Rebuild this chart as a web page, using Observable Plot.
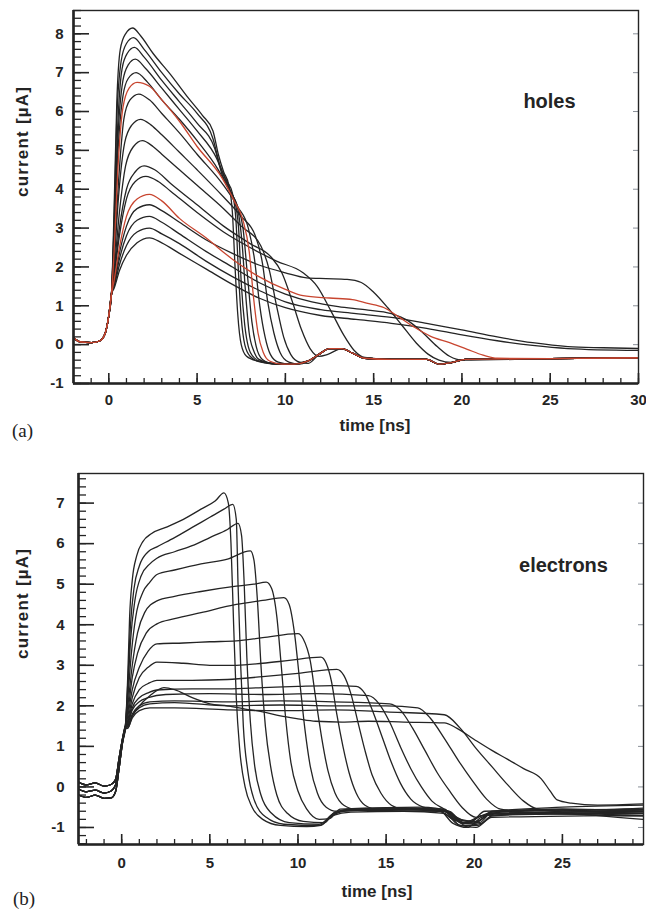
<!DOCTYPE html>
<html><head><meta charset="utf-8">
<script src="https://cdn.jsdelivr.net/npm/d3@7"></script>
<script src="https://cdn.jsdelivr.net/npm/@observablehq/plot@0.6"></script>
<style>
html,body{margin:0;padding:0;background:#fff;}
body{width:646px;height:913px;position:relative;overflow:hidden;font-family:"Liberation Sans",Arial,sans-serif;}
#pa{position:absolute;left:0;top:0}
#pb{position:absolute;left:0;top:460px}
.tag{position:absolute;font-family:"Liberation Serif","Times New Roman",serif;font-size:19px;color:#222;line-height:1}
.spaced text{letter-spacing:1.2px}
</style></head><body>
<div id="pa"></div><div id="pb"></div>
<div class="tag" style="left:12px;top:421px">(a)</div>
<div class="tag" style="left:13px;top:889px">(b)</div>
<script>
// ---------- panel (a): holes ----------
const holesXDomain = [-2, 30];
const holesYDomain = [-1, 8.6];
const holesXTicks = [0, 5, 10, 15, 20, 25, 30];
const holesYTicks = [-1, 0, 1, 2, 3, 4, 5, 6, 7, 8];
const holesRed = [5, 11];
const holesPre = [[-2,0.18],[-1.6,0.07],[-1.0,0.05],[-0.5,0.1],[-0.2,0.3],[0,0.75],[0.15,1.3]];
const holesTail = [[10.5,-0.5],[11.3,-0.42],[11.9,-0.25],[12.5,-0.1],[13.2,-0.1],[13.8,-0.22],[14.5,-0.35],[16,-0.38],[18,-0.38],[18.7,-0.5],[19.4,-0.46],[20.2,-0.38],[25,-0.36],[30,-0.34]];
const holesCurves = [
 [[0.3,3.5],[0.45,6.2],[0.65,7.6],[0.95,8.0],[1.35,8.15],[1.8,7.95],[2.5,7.5],[3.5,6.95],[4.5,6.35],[5.3,5.9],[5.9,5.5],[6.2,4.9],[6.5,4.45],[6.8,4.1],[7.0,3.4],[7.15,2.0],[7.3,0.8],[7.5,0.0],[7.8,-0.3],[8.4,-0.42],[9.5,-0.48]],
 [[0.3,3.2],[0.45,5.8],[0.7,7.3],[1.0,7.75],[1.4,7.9],[2,7.6],[3,7.0],[4,6.45],[5,5.95],[5.9,5.3],[6.3,4.6],[6.7,4.2],[7.0,3.9],[7.2,3.2],[7.35,1.8],[7.5,0.7],[7.7,0.0],[8.0,-0.3],[8.6,-0.45],[9.6,-0.5]],
 [[0.3,3.0],[0.5,5.6],[0.75,7.1],[1.05,7.5],[1.45,7.65],[2,7.4],[3,6.8],[4,6.25],[5,5.7],[6.0,5.05],[6.4,4.4],[6.8,4.0],[7.1,3.75],[7.35,3.0],[7.5,1.6],[7.7,0.5],[7.9,-0.05],[8.2,-0.32],[8.8,-0.46],[9.8,-0.5]],
 [[0.3,2.8],[0.5,5.2],[0.8,6.8],[1.1,7.2],[1.5,7.35],[2.1,7.1],[3,6.6],[4,6.05],[5,5.5],[6.1,4.8],[6.6,4.25],[7.0,3.85],[7.3,3.5],[7.55,2.6],[7.75,1.3],[7.95,0.3],[8.2,-0.15],[8.5,-0.38],[9.2,-0.48],[10,-0.5]],
 [[0.3,2.6],[0.5,4.8],[0.8,6.4],[1.1,6.85],[1.55,7.0],[2.2,6.75],[3,6.3],[4,5.8],[5,5.25],[6.2,4.5],[6.8,4.0],[7.3,3.55],[7.6,3.0],[7.85,1.8],[8.1,0.6],[8.35,-0.05],[8.7,-0.38],[9.4,-0.5],[10.2,-0.5]],
 [[0.3,2.4],[0.5,4.4],[0.8,6.1],[1.15,6.6],[1.6,6.75],[2.3,6.65],[3,6.3],[4,5.75],[5,5.1],[6.4,4.3],[7.1,3.7],[7.6,3.2],[7.95,2.4],[8.2,1.2],[8.45,0.3],[8.75,-0.2],[9.1,-0.42],[9.8,-0.5]],
 [[0.3,2.3],[0.55,4.2],[0.85,5.8],[1.2,6.3],[1.7,6.45],[2.3,6.3],[3,5.95],[4,5.45],[5,4.9],[6.5,4.1],[7.3,3.55],[7.9,3.0],[8.25,2.2],[8.55,1.0],[8.85,0.2],[9.15,-0.25],[9.6,-0.45],[10.3,-0.5]],
 [[0.3,2.1],[0.55,3.8],[0.9,5.2],[1.3,5.65],[1.8,5.8],[2.4,5.65],[3,5.4],[4,4.95],[5,4.5],[6.5,3.8],[7.5,3.3],[8.3,2.8],[8.7,2.1],[9.0,1.1],[9.35,0.3],[9.7,-0.2],[10.2,-0.45],[10.8,-0.5]],
 [[0.3,1.9],[0.6,3.4],[0.95,4.6],[1.4,5.1],[1.9,5.25],[2.5,5.1],[3,4.9],[4,4.5],[5,4.1],[6.5,3.5],[7.5,3.05],[8.6,2.55],[9.1,1.9],[9.5,1.0],[9.9,0.2],[10.3,-0.25],[10.8,-0.45],[11.3,-0.48]],
 [[0.3,1.8],[0.6,3.0],[1.0,4.0],[1.5,4.45],[2.0,4.6],[2.6,4.5],[3.5,4.15],[5,3.6],[6.5,3.05],[8,2.6],[9.2,2.25],[9.8,1.85],[10.4,1.1],[10.9,0.4],[11.4,-0.1],[11.9,-0.3],[12.4,-0.25]],
 [[0.3,1.75],[0.6,2.8],[1.0,3.75],[1.5,4.2],[2.1,4.33],[2.8,4.2],[3.5,3.95],[5,3.4],[6.5,2.9],[8,2.5],[9.5,2.15],[11,1.85],[11.8,1.5],[12.6,0.85],[13.3,0.25],[13.9,-0.15],[14.5,-0.33]],
 [[0.3,1.65],[0.6,2.5],[1.0,3.3],[1.6,3.75],[2.3,3.87],[3,3.7],[4,3.25],[5.5,2.75],[7,2.2],[8.5,1.75],[10,1.42],[11,1.26],[12.5,1.2],[13.8,1.16],[14.6,1.07],[15.6,0.95],[16.4,0.72],[17.3,0.45],[18.2,0.22],[19.3,0.05],[20.3,-0.12],[21.2,-0.27],[22,-0.35]],
 [[0.3,1.6],[0.6,2.35],[1.0,3.05],[1.6,3.5],[2.3,3.6],[3,3.45],[4,3.15],[5.5,2.7],[7,2.35],[8.5,2.05],[10,1.85],[11.2,1.72],[12.3,1.7],[13.5,1.68],[14.3,1.6],[15,1.35],[15.8,0.95],[16.6,0.5],[17.4,0.05],[18.1,-0.25],[18.7,-0.4]],
 [[0.3,1.55],[0.6,2.2],[1.0,2.8],[1.6,3.2],[2.3,3.3],[3,3.15],[4,2.85],[5.5,2.4],[7,2.0],[8.5,1.6],[10,1.3],[11.5,1.1],[13,0.98],[14.5,0.9],[16,0.8],[17,0.6],[17.8,0.3],[18.6,-0.05],[19.3,-0.3],[20,-0.4]],
 [[0.3,1.5],[0.6,2.05],[1.0,2.55],[1.6,2.9],[2.3,3.0],[3,2.85],[4,2.6],[5.5,2.15],[7,1.75],[8.5,1.4],[10,1.1],[12,0.9],[14,0.8],[16,0.7],[18,0.55],[20,0.38],[22,0.2],[24,0.05],[26,-0.05],[28,-0.08],[30,-0.1]],
 [[0.3,1.45],[0.6,1.9],[1.0,2.3],[1.6,2.62],[2.3,2.75],[3,2.62],[4,2.35],[5.5,1.95],[7,1.55],[8.5,1.2],[10,0.95],[12,0.75],[14,0.65],[16,0.55],[18,0.42],[20,0.25],[22,0.1],[24,-0.02],[26,-0.1],[30,-0.15]]
];

// ---------- panel (b): electrons ----------
const elecXDomain = [-2.45, 29.6];
const elecYDomain = [-1.42, 7.73];
const elecXTicks = [0, 5, 10, 15, 20, 25];
const elecYTicks = [-1, 0, 1, 2, 3, 4, 5, 6, 7];
const elecPreA = [[-2.45,-0.05],[-2.0,-0.12],[-1.5,-0.08],[-1.0,-0.15],[-0.6,-0.1],[-0.35,0.05],[-0.15,0.6],[0.05,1.15],[0.2,1.45]];
const elecPreB = [[-2.45,-0.2],[-2.0,-0.26],[-1.5,-0.2],[-1.0,-0.28],[-0.6,-0.27],[-0.35,-0.12],[-0.15,0.45],[0.05,1.1],[0.2,1.42]];
const elecPreC = [[-2.45,0.12],[-2.0,0.05],[-1.5,0.1],[-1.0,0.02],[-0.6,0.06],[-0.35,0.18],[-0.15,0.7],[0.05,1.2],[0.2,1.48]];
const elecCurves = [
 [[0.35,2.8],[0.45,4.2],[0.6,5.1],[0.85,5.7],[1.2,6.05],[1.7,6.25],[2.5,6.4],[3.5,6.6],[4.5,6.85],[5.3,7.05],[5.8,7.25],[6.05,7.0],[6.2,6.0],[6.35,4.0],[6.5,2.2],[6.7,0.9],[7.0,0.0],[7.4,-0.5],[8.0,-0.8],[9.0,-0.95],[10.5,-0.98],[11.3,-0.95],[11.9,-0.72],[12.6,-0.6],[15,-0.55],[18,-0.58],[18.8,-0.9],[19.6,-1.0],[20.4,-0.75],[22,-0.6],[26,-0.58],[29.6,-0.52]],
 [[0.35,2.6],[0.5,4.0],[0.7,4.9],[1.0,5.45],[1.5,5.8],[2,5.92],[3,6.15],[4,6.4],[5,6.65],[5.8,6.85],[6.3,6.97],[6.5,6.6],[6.6,5.0],[6.75,3.0],[6.9,1.5],[7.15,0.4],[7.5,-0.3],[8.2,-0.75],[9.2,-0.92],[11.2,-0.95],[12.0,-0.7],[13,-0.62],[16,-0.6],[18.3,-0.65],[19.2,-0.95],[20.2,-0.95],[21,-0.72],[24,-0.65],[29.6,-0.7]],
 [[0.35,2.4],[0.5,3.6],[0.75,4.6],[1.1,5.2],[1.6,5.5],[2,5.64],[3,5.8],[4,5.95],[5,6.15],[6,6.35],[6.6,6.5],[6.8,6.2],[6.95,5.0],[7.1,3.2],[7.3,1.6],[7.55,0.5],[7.9,-0.2],[8.5,-0.65],[9.5,-0.88],[11.2,-0.92],[12,-0.66],[13,-0.55],[17,-0.55],[18.5,-0.62],[19.3,-0.9],[20.3,-0.88],[21,-0.62],[25,-0.55],[29.6,-0.6]],
 [[0.35,2.2],[0.55,3.3],[0.8,4.2],[1.2,4.8],[1.6,5.05],[2,5.24],[3,5.35],[4.5,5.5],[6,5.62],[7.3,5.82],[7.5,5.6],[7.7,4.6],[7.9,3.0],[8.15,1.5],[8.45,0.5],[8.8,-0.2],[9.4,-0.65],[10.3,-0.85],[11.5,-0.88],[12.1,-0.62],[13,-0.58],[18,-0.6],[18.8,-0.8],[19.6,-0.9],[20.5,-0.7],[29.6,-0.65]],
 [[0.35,2.0],[0.6,3.0],[0.9,3.8],[1.3,4.3],[2,4.59],[3,4.7],[4.5,4.82],[6.5,4.95],[7.5,5.0],[8.2,5.05],[8.5,4.9],[8.8,4.2],[9.05,3.0],[9.3,1.7],[9.6,0.6],[10,-0.1],[10.5,-0.55],[11.2,-0.8],[11.8,-0.78],[12.4,-0.55],[15,-0.52],[18.3,-0.55],[19,-0.8],[19.8,-0.85],[20.6,-0.6],[29.6,-0.55]],
 [[0.35,1.85],[0.6,2.7],[0.9,3.3],[1.4,3.8],[2,4.02],[3,4.15],[4.5,4.3],[6.5,4.5],[8,4.6],[9.2,4.67],[9.5,4.5],[9.8,3.8],[10.1,2.6],[10.4,1.4],[10.7,0.5],[11.1,-0.15],[11.6,-0.5],[12.2,-0.6],[13,-0.55],[17,-0.5],[18.6,-0.6],[19.4,-0.88],[20.2,-0.85],[21,-0.6],[25,-0.5],[29.6,-0.45]],
 [[0.35,1.75],[0.6,2.4],[1.0,2.95],[1.5,3.35],[2,3.53],[3.5,3.55],[5,3.58],[6.5,3.6],[8,3.68],[10,3.78],[10.3,3.65],[10.7,3.1],[11.0,2.2],[11.35,1.2],[11.7,0.4],[12.1,-0.15],[12.6,-0.45],[13.3,-0.55],[17,-0.55],[18.5,-0.6],[19.5,-0.95],[20.4,-0.9],[21.2,-0.65],[29.6,-0.6]],
 [[0.35,1.65],[0.6,2.2],[1.0,2.7],[1.5,2.95],[2,3.08],[3.5,3.05],[5,3.0],[6.5,3.0],[8,3.05],[9.5,3.12],[11.3,3.2],[11.6,3.05],[11.9,2.6],[12.2,1.8],[12.55,1.0],[12.9,0.35],[13.3,-0.15],[13.8,-0.45],[14.5,-0.55],[18,-0.55],[18.8,-0.7],[19.6,-0.85],[20.5,-0.7],[29.6,-0.62]],
 [[0.35,1.6],[0.6,2.05],[1.0,2.4],[1.5,2.55],[2,2.63],[4,2.63],[6,2.65],[8,2.72],[10,2.8],[12.2,2.9],[12.6,2.75],[13,2.3],[13.4,1.6],[13.8,0.9],[14.2,0.3],[14.7,-0.15],[15.3,-0.45],[16,-0.55],[18.3,-0.6],[19.2,-0.95],[20.1,-1.0],[21,-0.75],[29.6,-0.7]],
 [[0.35,1.55],[0.6,1.95],[1.0,2.2],[1.5,2.32],[2,2.39],[4,2.42],[6,2.42],[8,2.45],[10,2.48],[12,2.5],[13.3,2.48],[13.8,2.3],[14.3,1.8],[14.8,1.2],[15.3,0.6],[15.8,0.1],[16.4,-0.3],[17.1,-0.5],[18.3,-0.6],[19.1,-0.85],[20,-0.9],[21,-0.65],[29.6,-0.6]],
 [[0.35,1.55],[0.6,1.9],[1.0,2.1],[1.5,2.2],[2.5,2.28],[5,2.3],[8,2.28],[11,2.3],[14,2.25],[14.6,2.05],[15.2,1.6],[15.8,1.0],[16.4,0.45],[17,0.0],[17.6,-0.35],[18.3,-0.55],[19.2,-0.8],[20.1,-0.85],[21,-0.65],[29.6,-0.65]],
 [[0.35,1.5],[0.6,1.8],[1.0,2.0],[1.6,2.1],[3,2.12],[6,2.1],[9,2.12],[12,2.1],[15.2,2.05],[15.8,1.9],[16.5,1.45],[17.2,0.9],[17.9,0.35],[18.6,-0.1],[19.3,-0.5],[20.1,-0.75],[21,-0.62],[25,-0.55],[29.6,-0.6]],
 [[0.35,1.5],[0.6,1.75],[1.0,1.95],[1.6,2.05],[3,2.08],[6,2.0],[9,2.02],[12,2.0],[15,2.0],[16.8,1.95],[17.5,1.7],[18.3,1.2],[19.1,0.65],[19.9,0.15],[20.7,-0.3],[21.5,-0.55],[23,-0.62],[29.6,-0.72]],
 [[0.35,1.45],[0.6,1.7],[1.0,1.88],[1.6,1.95],[3,1.95],[6,1.9],[9,1.88],[12,1.9],[15,1.85],[18.3,1.78],[19.2,1.45],[20.1,0.95],[21,0.5],[21.9,0.05],[22.8,-0.35],[23.6,-0.55],[25,-0.62],[29.6,-0.8]],
 [[0.35,1.45],[0.6,1.75],[1.0,2.0],[1.6,2.25],[2.4,2.45],[3.0,2.4],[4,2.2],[5,2.05],[6,2.0],[7,1.92],[8,1.85],[9,1.75],[10,1.68],[11,1.62],[12.5,1.6],[14,1.62],[16,1.6],[18.3,1.58],[19,1.45],[20,1.17],[21,0.9],[21.9,0.68],[22.8,0.45],[23.8,0.2],[24.3,-0.1],[24.7,-0.32],[25.5,-0.4],[27,-0.45],[29.6,-0.42]]
];

// ---------- build rows ----------
function rows(curves, preFor, tail) {
  const out = [];
  curves.forEach((body, id) => {
    const last = body[body.length - 1][0];
    const pts = [...preFor(id), ...body, ...tail.filter(p => p[0] > last + 0.4)];
    pts.forEach(([t, I]) => out.push({id, t, I}));
  });
  return out;
}
const holes = rows(holesCurves, () => holesPre, holesTail);
const elecPres = [elecPreA, elecPreB, elecPreC];
const elec = rows(elecCurves, id => elecPres[id % 3], []);

const FONT = "'Liberation Sans', Arial, Helvetica, sans-serif";
const INK = "#242424";
const RED = "#c8452f";

function panel({data, red, xDomain, yDomain, xTicks, yTicks, width, height, mt, mr, mb, ml, yPad, xPad, tag, tagDx, tagDy, xlabDx, xlabDy, ylabDx}) {
  const pw = width - ml - mr, ph = height - mt - mb;
  const yMinor = d3.range(Math.ceil(yDomain[0] * 5), Math.floor(yDomain[1] * 5) + 1).map(k => k / 5);
  const xMinor = d3.range(Math.ceil(xDomain[0]), Math.floor(xDomain[1]) + 1);
  const black = data.filter(d => !red.includes(d.id));
  const reds = data.filter(d => red.includes(d.id));
  return Plot.plot({
    width, height, marginTop: mt, marginRight: mr, marginBottom: mb, marginLeft: ml,
    x: {domain: xDomain}, y: {domain: yDomain},
    style: {fontFamily: FONT, color: INK, background: "transparent", overflow: "visible"},
    marks: [
      Plot.line(black, {x: "t", y: "I", z: "id", stroke: INK, strokeWidth: 1.3, curve: "monotone-x", clip: true}),
      Plot.line(reds, {x: "t", y: "I", z: "id", stroke: RED, strokeWidth: 1.3, curve: "monotone-x", clip: true}),
      Plot.tickY(yMinor, {y: d => d, insetRight: pw - 8, stroke: INK, strokeWidth: 1.3}),
      Plot.tickY(yTicks, {y: d => d, insetRight: pw - 16, stroke: INK, strokeWidth: 1.6}),
      Plot.tickY(yTicks, {y: d => d, insetLeft: pw - 5, stroke: "#8a9099", strokeWidth: 1}),
      Plot.tickX(xMinor, {x: d => d, insetTop: ph - 5, stroke: INK, strokeWidth: 1.3}),
      Plot.tickX(xTicks, {x: d => d, insetTop: ph - 10, stroke: INK, strokeWidth: 1.6}),
      Plot.frame({stroke: INK, strokeWidth: 1.4}),
      Plot.ruleX([xDomain[0]], {stroke: INK, strokeWidth: 2.6}),
      Plot.ruleY([yDomain[0]], {stroke: INK, strokeWidth: 2.6}),
      Plot.axisY(yTicks, {tickSize: 0, tickPadding: yPad, fontSize: 15, fontWeight: "bold", tickFormat: d => String(d), label: null}),
      Plot.axisX(xTicks, {tickSize: 0, tickPadding: xPad, fontSize: 15, fontWeight: "bold", tickFormat: d => String(d), label: null}),
      Plot.text(["current [\u00b5A]"], {text: d => d, frameAnchor: "left", rotate: -90, dx: ylabDx, fontSize: 17, fontWeight: "bold", className: "spaced"}),
      Plot.text(["time [ns]"], {text: d => d, frameAnchor: "bottom", dx: xlabDx, dy: xlabDy, fontSize: 17, fontWeight: "bold"}),
      Plot.text([tag], {text: d => d, frameAnchor: "top-right", textAnchor: "middle", dx: tagDx, dy: tagDy, fontSize: 20, fontWeight: "bold"})
    ]
  });
}

document.getElementById("pa").append(panel({
  data: holes, red: holesRed, xDomain: holesXDomain, yDomain: holesYDomain,
  xTicks: holesXTicks, yTicks: holesYTicks,
  width: 646, height: 445, mt: 10, mr: 8, mb: 62, ml: 73, yPad: 10, xPad: 11,
  tag: "holes", tagDx: -89, tagDy: 83, xlabDx: 19, xlabDy: 47, ylabDx: -51
}));
document.getElementById("pb").append(panel({
  data: elec, red: [], xDomain: elecXDomain, yDomain: elecYDomain,
  xTicks: elecXTicks, yTicks: elecYTicks,
  width: 646, height: 453, mt: 13, mr: 3, mb: 69, ml: 78, yPad: 14, xPad: 13,
  tag: "electrons", tagDx: -80, tagDy: 84, xlabDx: 16, xlabDy: 52, ylabDx: -56
}));
</script>
</body></html>
